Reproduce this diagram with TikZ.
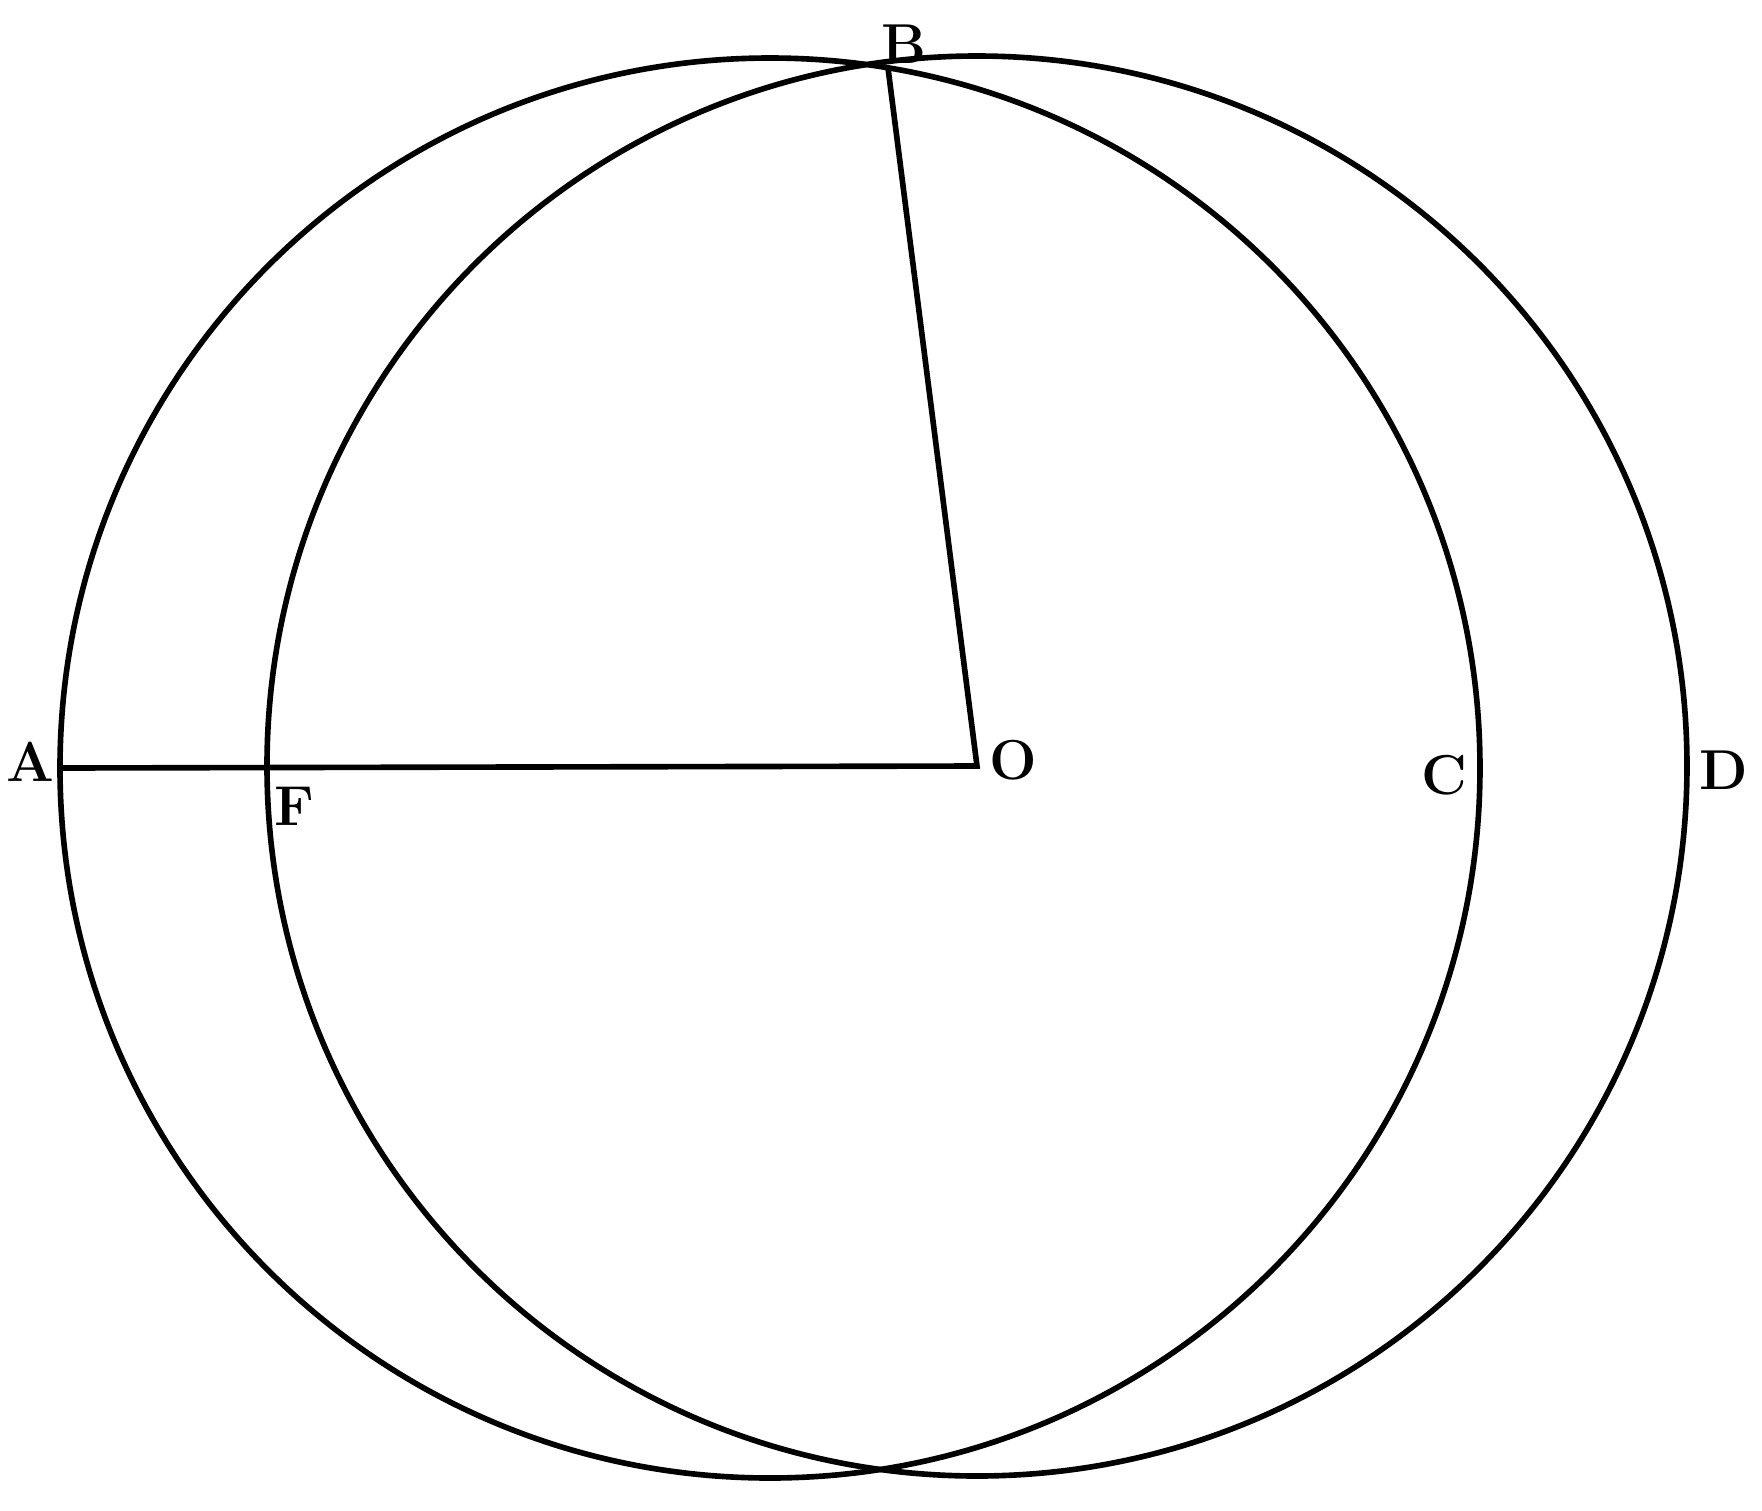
\documentclass[tikz,border=0pt]{standalone}
\begin{document}
\begin{tikzpicture}[x=0.01cm,y=-0.01cm,
  curve/.style={line width=1.6pt,black},
  lbl/.style={font=\bfseries\fontsize{16}{16}\selectfont,inner sep=0pt}]
\useasboundingbox (0,0) rectangle (1762,1511);
% centres
\coordinate (K1) at (770,768);
\coordinate (O) at (977,766);
% circles
\draw[curve] (K1) circle[radius=710];
\draw[curve] (O) circle[radius=710];
% points
\coordinate (A) at (60,768);
\coordinate (F) at (265,767);
\coordinate (B) at (888,68);
% lines
\draw[curve,line join=miter] (A) -- (O) -- (B);
% labels
\node[lbl] (lA) at (30,762) {A};
\node[lbl] (lB) at (904,44) {B};
\node[lbl] (lO) at (1013,760) {O};
\node[lbl] (lC) at (1444,775) {C};
\node[lbl] (lD) at (1724,770) {D};
\node[lbl] (lF) at (294,806) {F};
\end{tikzpicture}
\end{document}
